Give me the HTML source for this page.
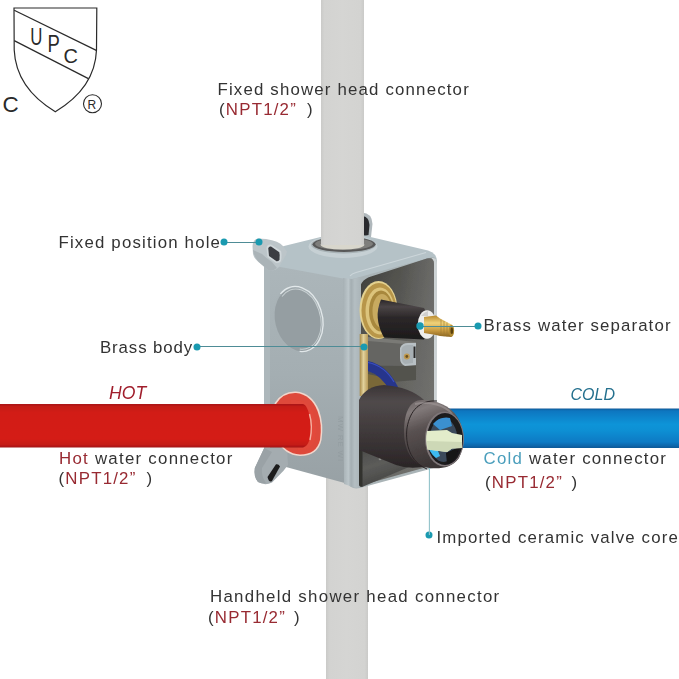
<!DOCTYPE html>
<html><head><meta charset="utf-8">
<style>
html,body{margin:0;padding:0;background:#fff;width:679px;height:679px;overflow:hidden}
svg{display:block}
.t{font-family:"Liberation Sans",sans-serif;font-size:16.5px;fill:#333;letter-spacing:2px}
.r{fill:#982a32}
.c{fill:#4a9ebc}
.it{font-family:"Liberation Sans",sans-serif;font-style:italic;font-size:16px}
</style></head><body>
<svg width="679" height="679" viewBox="0 0 679 679">
<defs>
  <linearGradient id="gpipe" x1="0" x2="1" y1="0" y2="0">
    <stop offset="0" stop-color="#cacac8"/><stop offset="0.08" stop-color="#d3d3d1"/><stop offset="0.5" stop-color="#d5d5d3"/><stop offset="0.92" stop-color="#d3d3d1"/><stop offset="1" stop-color="#cacac8"/>
  </linearGradient>
  <linearGradient id="gred" x1="0" x2="0" y1="0" y2="1">
    <stop offset="0" stop-color="#a81416"/><stop offset="0.06" stop-color="#c41a16"/><stop offset="0.2" stop-color="#d21c18"/><stop offset="0.8" stop-color="#d41e18"/><stop offset="0.94" stop-color="#c41a14"/><stop offset="1" stop-color="#a01412"/>
  </linearGradient>
  <linearGradient id="gblue" x1="0" x2="0" y1="0" y2="1">
    <stop offset="0" stop-color="#0e5a98"/><stop offset="0.06" stop-color="#0c76c0"/><stop offset="0.4" stop-color="#0a94d8"/><stop offset="0.55" stop-color="#0a90d4"/><stop offset="0.85" stop-color="#0a7ac4"/><stop offset="0.95" stop-color="#0a64a8"/><stop offset="1" stop-color="#0c5896"/>
  </linearGradient>
  <linearGradient id="gfront" x1="0" x2="0" y1="0" y2="1">
    <stop offset="0" stop-color="#acb6ba"/><stop offset="0.5" stop-color="#a4aeb2"/><stop offset="1" stop-color="#98a1a5"/>
  </linearGradient>
  <linearGradient id="gint" x1="0" x2="0.6" y1="0" y2="1">
    <stop offset="0" stop-color="#383834"/><stop offset="0.25" stop-color="#51514d"/><stop offset="0.6" stop-color="#62625e"/><stop offset="1" stop-color="#6e6e6a"/>
  </linearGradient>
  <radialGradient id="gbrass" cx="0.4" cy="0.4" r="0.7">
    <stop offset="0" stop-color="#e0c070"/><stop offset="0.6" stop-color="#c8a048"/><stop offset="1" stop-color="#9a7a30"/>
  </radialGradient>
  <linearGradient id="gcyl" x1="0" x2="0" y1="0" y2="1">
    <stop offset="0" stop-color="#3a3436"/><stop offset="0.2" stop-color="#504a4b"/><stop offset="0.6" stop-color="#3e3839"/><stop offset="1" stop-color="#2a2526"/>
  </linearGradient>
  <linearGradient id="gcyl2" x1="0" x2="0" y1="0" y2="1">
    <stop offset="0" stop-color="#2a2628"/><stop offset="0.18" stop-color="#4a4446"/><stop offset="0.45" stop-color="#2c2829"/><stop offset="1" stop-color="#1c1a1b"/>
  </linearGradient>
  <linearGradient id="gcap" x1="0" x2="0.3" y1="0" y2="1">
    <stop offset="0" stop-color="#6a6262"/><stop offset="0.2" stop-color="#827a7a"/><stop offset="0.45" stop-color="#5a5252"/><stop offset="1" stop-color="#3a3434"/>
  </linearGradient>
  <linearGradient id="gbrassv" x1="0" x2="1" y1="0" y2="0">
    <stop offset="0" stop-color="#a88a48"/><stop offset="0.45" stop-color="#e2d29c"/><stop offset="1" stop-color="#b89a58"/>
  </linearGradient>
  <linearGradient id="gstem" x1="0" x2="0" y1="0" y2="1">
    <stop offset="0" stop-color="#b88a30"/><stop offset="0.35" stop-color="#f0d27a"/><stop offset="0.7" stop-color="#c89a40"/><stop offset="1" stop-color="#8a6420"/>
  </linearGradient>
  <linearGradient id="grim" x1="0" x2="1" y1="0" y2="0">
    <stop offset="0" stop-color="#a6b0b4"/><stop offset="0.3" stop-color="#bcc6ca"/><stop offset="0.45" stop-color="#a4aeb2"/><stop offset="0.65" stop-color="#b4bec2"/><stop offset="1" stop-color="#aab4b8"/>
  </linearGradient>
  <linearGradient id="gfloor" x1="0" x2="0.4" y1="0" y2="1">
    <stop offset="0" stop-color="#4a4a48"/><stop offset="0.5" stop-color="#5c5c5a"/><stop offset="1" stop-color="#444442"/>
  </linearGradient>
  <linearGradient id="gintr" x1="0" x2="1" y1="0" y2="0">
    <stop offset="0" stop-color="#707070" stop-opacity="0"/><stop offset="1" stop-color="#747472" stop-opacity="0.6"/>
  </linearGradient>
  <filter id="soft" x="-5%" y="-5%" width="110%" height="110%"><feGaussianBlur stdDeviation="0.45"/></filter>
</defs>

<!-- UPC logo -->
<g fill="none" stroke="#2a2a2a" stroke-width="1.2">
  <path d="M14 8 L96.8 8 L96.5 50 Q95 88 55.3 111.7 Q16 88 14.2 50 Z"/>
  <path d="M14.2 10.3 L96.3 50.4"/>
  <path d="M14.2 40.6 L88.4 78.6"/>
</g>
<g font-family="Liberation Sans, sans-serif" fill="#2a2a2a">
  <text transform="translate(30.2 45) scale(0.8 1.1)" font-size="21">U</text>
  <text transform="translate(47.6 52.1) scale(0.84 1.05)" font-size="22">P</text>
  <text transform="translate(63.6 62.7) scale(0.95 1)" font-size="21">C</text>
  <text transform="translate(2.6 112.2) scale(1.02 1)" font-size="22">C</text>
</g>
<circle cx="92.5" cy="103.7" r="9" fill="none" stroke="#2a2a2a" stroke-width="1.1"/>
<text x="87.6" y="108.7" font-family="Liberation Sans, sans-serif" font-size="12" fill="#2a2a2a">R</text>

<g filter="url(#soft)">
<!-- bottom pipe -->
<rect x="326" y="470" width="42" height="209" fill="url(#gpipe)"/>
<!-- clip behind top pipe -->
<path d="M362 212.5 Q372 213 372.5 224 L371 237 L363 239 Z" fill="#b0b8bc"/>
<path d="M363 216 Q369 217 369.5 225 L368.5 235 L363 236 Z" fill="#2a2c2e"/>

<!-- box -->
<!-- front face -->
<path d="M264 263 L351 279 L352 485 L286 467 L264 452 Z" fill="url(#gfront)"/>
<!-- top face -->
<path d="M264 264 Q266 252 284 246 L345 231 L428 250.5 Q437 253 437 262 L351 280 Z" fill="#b5c2c7"/>
<!-- side rim -->
<path d="M349 280 L432 257 Q437 257 437 264 L436 462 Q436 468 430 469 L360 488 Q350 490 347 482 Z" fill="#aab4b7"/>
<path d="M432 258 Q437 257 437 264 L436.5 462 L432 464 Z" fill="#cdd3d5"/>
<!-- interior opening -->
<path d="M359 294 Q359 280 371 276.5 L427 258.5 Q434 257 434 264 L434 465 L366 484 Q359 485 359 479 Z" fill="url(#gint)"/>
<path d="M400 268 L427 258.5 Q434 257 434 264 L434 465 L400 474 Z" fill="url(#gintr)"/>
<path d="M350 276 Q352 273.5 356 272.5 L426 252.5" stroke="#ccd6da" stroke-width="1.2" fill="none"/>
<!-- front-face corner rim highlight -->
<path d="M343 278 L352 279 Q358 278 361 277 L361 487 Q355 489 350 486 L344 484 Z" fill="url(#grim)"/>
<path d="M264 263 L270 264 L270 456 L264 452 Z" fill="#adb7bb"/>
<text transform="translate(337.5 416) rotate(90)" font-family="Liberation Sans, sans-serif" font-size="8" fill="#8e989c" letter-spacing="0.8" opacity="0.6">MW RE WI</text>
<!-- top lug -->
<path d="M252.5 246 Q253 239 258 238.5 L266 239 Q279 241 283 246 L287 251.5 Q286.5 255 284 258.5 L279 267 Q274 272 268 270 L261 264 Q254 259 253 254 Z" fill="#bcc5c9"/>
<path d="M253 250 Q254 258 261 264 L268 270 Q272.5 272 277 268 L272 262 Q266 258 262 254 Z" fill="#aab3b7"/>
<path d="M266.5 248 Q267 244 271 244.5 L281 251 Q282 254 281 261 Q280 263.5 276 263 L267.5 257 Z" fill="#d0d7da"/>
<path d="M268.3 248.5 Q268.5 246.3 271 246.6 L279.3 252.2 Q280 254.5 279.5 259.5 Q279 261.5 276.5 261.2 L269 256 Z" fill="#3a3e42"/>
<!-- bottom tab -->
<path d="M264.2 448 L287 448 L288 465 L283.3 471 L272 482.5 Q265 486 258 482 Q253.5 477 254.8 468 Z" fill="#a4acb0"/>
<path d="M264.2 448 L254.8 468 Q253.5 477 258 482 Q262 484 266 483 Q261 476 262 468 L272 452 Z" fill="#9aa2a6"/>
<path d="M267.5 477 L276 464.3 Q278.5 463.5 280 466.5 L272 481 Q269 483 267.5 477 Z" fill="#1c1c1e"/>
<!-- cap circle -->
<g transform="rotate(-13 298.5 319)">
  <ellipse cx="298.5" cy="319" rx="24.5" ry="33.5" fill="#a8b2b6"/>
  <ellipse cx="298" cy="319.5" rx="23" ry="32" fill="#959ea2"/>
  <path d="M286.5 290.4 A24 33 0 1 1 292.3 350.9" fill="none" stroke="#e2e8ea" stroke-width="1.3"/>
  <path d="M287.5 293.4 A21.5 30.5 0 1 1 293 348.5" fill="none" stroke="#c8d0d2" stroke-width="1"/>
</g>
<!-- top ring -->
<ellipse cx="343" cy="246.4" rx="34.5" ry="11.6" fill="#c6d0d4"/>
<ellipse cx="343.5" cy="244.8" rx="32.5" ry="8.6" fill="#a8b2b6"/>
<ellipse cx="344" cy="244.3" rx="31.5" ry="7.6" fill="#585858"/>
<ellipse cx="344" cy="243.8" rx="29" ry="6.2" fill="#7e7e7c"/>
<ellipse cx="342.5" cy="244.8" rx="21.9" ry="4.8" fill="#d8d6cc"/>

<!-- top pipe -->
<rect x="321" y="0" width="43" height="245" fill="url(#gpipe)"/>

<!-- interior parts -->
<rect x="359.7" y="334" width="8.3" height="62" fill="url(#gbrassv)"/>
<path d="M368 337 L416 342 L416 366 L368 365 Z" fill="#656562"/>
<path d="M368 337 L416 342 L416 345 L368 341 Z" fill="#7a7a76"/>
<path d="M368 366 L416 366 L416 380 L368 384 Z" fill="#52524e"/>
<path d="M400 348 Q402 343 408 343 L416 343 L416 365 L405 366 Q400 364 400 358 Z" fill="#b8c0c4"/>
<path d="M401.5 349 Q403 345 408 345 L413 345 L413 363 L405 364 Q401.5 362 401.5 357 Z" fill="#a8b0b4"/>
<circle cx="406.8" cy="356.5" r="3" fill="#c09a50"/>
<circle cx="406.8" cy="356.5" r="1.4" fill="#6a5020"/>
<rect x="413.5" y="346.5" width="2" height="11.5" fill="#2a2a2a"/>
<path d="M368 374 L386 378 L386 386 L368 390 Z" fill="#7a6838"/>
<path d="M368 361 Q387 365 398 387 L390 391 Q381 375 368 371 Z" fill="#26348c"/>
<path d="M368 362.5 Q385 366 394 382" fill="none" stroke="#3a50c0" stroke-width="1.2"/>
<!-- brass nut -->
<ellipse cx="378.5" cy="310" rx="19" ry="29" fill="#e4d290"/>
<ellipse cx="379" cy="310.5" rx="17.5" ry="27.5" fill="#b8964a"/>
<ellipse cx="380" cy="311" rx="14.5" ry="23.5" fill="#dcc47c"/>
<ellipse cx="381" cy="311" rx="12" ry="20.5" fill="#a8883e"/>
<ellipse cx="382" cy="311" rx="9.5" ry="17" fill="#c8aa60"/>
<!-- black cylinder -->
<path d="M381 299.5 L424 308 Q433 323 424 339.5 L384 337.5 Q373 318 381 299.5 Z" fill="url(#gcyl2)"/>
<ellipse cx="427" cy="324.5" rx="9.3" ry="14.3" fill="#eeeeec"/>
<path d="M421 316 Q424 312 428 311 L428 316 Z" fill="#d0d0ce"/>
<path d="M424 317 L436 315.5 L440 318.5 L451.5 324.5 Q456 331 451.5 337 L440 336 L436 335 L424 333 Z" fill="url(#gstem)"/>
<path d="M441 319.5 L441 336 M444 321 L444 336.3 M447 322.5 L447 336.6" stroke="#9a7a30" stroke-width="0.6"/>
<ellipse cx="451.5" cy="330.8" rx="2.6" ry="6" fill="#b08a30"/>
<ellipse cx="451.8" cy="330.8" rx="1.3" ry="3.2" fill="#5a4010"/>

<!-- valve cylinder -->
<path d="M359 447 L409 467 L362 487 Q359 487 359 484 Z" fill="url(#gfloor)"/>
<path d="M359 447 L362.5 448 L362.5 486.5 Q359 487 359 484 Z" fill="#30302e"/>
<circle cx="380" cy="459" r="1.3" fill="#8a8a86"/>
<path d="M359 400 Q366 386 384 385 Q410 387 424 400 L428 466 Q410 470 396 465 L359 450 Z" fill="url(#gcyl)"/>
<!-- blue pipe -->
<rect x="449" y="408.5" width="230" height="39.5" fill="url(#gblue)"/>
<path d="M404 432 C404 412 410 400 422 400 C436 400 450 405 458 418 C464 428 465 446 459 458 C452 468 440 469 430 468 C414 466 404 452 404 432 Z" fill="url(#gcap)"/>
<path d="M437 401 C420 400 410 410 407 428 C405 444 410 462 427 469" fill="none" stroke="#2a2425" stroke-width="1"/>
<path d="M415 404 C430 401 445 405 452 414" fill="none" stroke="#a09898" stroke-width="2" opacity="0.6"/>
<ellipse cx="444.5" cy="439" rx="19.5" ry="27.5" fill="#7e7678"/>
<ellipse cx="445" cy="439" rx="18" ry="26" fill="#1c1a1e"/>
<ellipse cx="443.5" cy="440" rx="14" ry="22" fill="#3a4a5a"/>
<path d="M433 424 Q440 416 450 418 L452 426 L440 430 Z" fill="#3a90d0"/>
<path d="M427 440 Q428 452 436 458 L440 456 L436 446 Z" fill="#3cbaf0"/>
<path d="M446 453 L459 447 Q457 461 447 464 Z" fill="#141214"/>
<path d="M427 431 Q425 440 427.5 449.5 L447 452 L452 448.5 L462 448 L462 435 L452 433 L447 430 Z" fill="#e2ecca"/>
<path d="M427 441 L462 442 L462 448 L452 448.5 L447 452 L427.5 449.5 Z" fill="#cdd8b6"/>

<!-- red pipe + ring -->
<path d="M274.7 403 Q282 391 296 391.5 Q312 393 319 410 Q324 424 321.5 440 Q318 456 300 456 Q284 455 277 440 Q272 422 274.7 403 Z" fill="#f2d6cc"/>
<path d="M276 404 Q283 392.5 296 393 Q311 394.5 317.5 411 Q322.5 424 320 440 Q316.5 454.5 300 454.5 Q285 453.5 278 439 Q273.5 422 276 404 Z" fill="#de4a3a"/>
<path d="M290 400 Q306 398 313 412 Q318 426 315 440 Q311 451 298 450 Z" fill="#e2483a"/>
<path d="M0 404 L303 404 C311 405 315.5 445 303 447.5 L0 447.5 Z" fill="url(#gred)"/>
<path d="M309.5 414 Q313 426 310 440" fill="none" stroke="#f4b0a0" stroke-width="1.4"/>

</g>
<!-- callouts -->
<g stroke="#4e8c96" stroke-width="1" fill="none">
  <line x1="224" y1="242.5" x2="259" y2="242.5"/>
  <line x1="197" y1="346.5" x2="364" y2="346.5"/>
  <line x1="420" y1="326.5" x2="478" y2="326.5"/>
  
</g>
<g fill="#1a9ab0">
  <circle cx="224" cy="242" r="3.5"/><circle cx="259" cy="242" r="3.5"/>
  <circle cx="197" cy="347" r="3.5"/><circle cx="364" cy="347" r="3.5"/>
  <circle cx="420" cy="326" r="3.7"/><circle cx="478" cy="326" r="3.5"/>
  <circle cx="429" cy="535" r="3.5"/>
</g>

<line x1="429.4" y1="468" x2="429.4" y2="535" stroke="#92c2ca" stroke-width="1.1"/>
<!-- labels -->
<text class="t" transform="translate(217.50 94.80) scale(1.02 0.95)" style="letter-spacing:1.155px">Fixed shower head connector</text>
<text class="t" transform="translate(219.00 114.80) scale(1.02 0.95)" style="letter-spacing:1.200px">(<tspan class="r">NPT1/2”</tspan><tspan dx="9.88">)</tspan></text>
<text class="t" transform="translate(58.50 247.50) scale(1.02 0.95)" style="letter-spacing:1.156px">Fixed position hole</text>
<text class="t" transform="translate(100.00 352.60) scale(1.02 0.95)" style="letter-spacing:0.873px">Brass body</text>
<text class="t" transform="translate(483.50 331.30) scale(1.02 0.95)" style="letter-spacing:1.102px">Brass water separator</text>
<text class="t" transform="translate(59.00 463.70) scale(1.02 0.95)" style="letter-spacing:1.244px"><tspan class="r">Hot</tspan> water connector</text>
<text class="t" transform="translate(58.50 483.80) scale(1.02 0.95)" style="letter-spacing:1.200px">(<tspan class="r">NPT1/2”</tspan><tspan dx="9.69">)</tspan></text>
<text class="t" transform="translate(483.50 463.70) scale(1.02 0.95)" style="letter-spacing:1.210px"><tspan class="c">Cold</tspan> water connector</text>
<text class="t" transform="translate(485.00 488.00) scale(1.02 0.95)" style="letter-spacing:1.200px">(<tspan class="r">NPT1/2”</tspan><tspan dx="8.31">)</tspan></text>
<text class="t" transform="translate(436.50 543.10) scale(1.02 0.95)" style="letter-spacing:1.132px">Imported ceramic valve core</text>
<text class="t" transform="translate(210.00 602.40) scale(1.02 0.95)" style="letter-spacing:1.274px">Handheld shower head connector</text>
<text class="t" transform="translate(208.00 622.50) scale(1.02 0.95)" style="letter-spacing:1.200px">(<tspan class="r">NPT1/2”</tspan><tspan dx="7.92">)</tspan></text>
<text class="it" x="109" y="398.6" fill="#a01e2c" style="font-size:17.6px">HOT</text>
<text class="it" x="570.5" y="400.4" fill="#24708e">COLD</text>
</svg>
</body></html>
